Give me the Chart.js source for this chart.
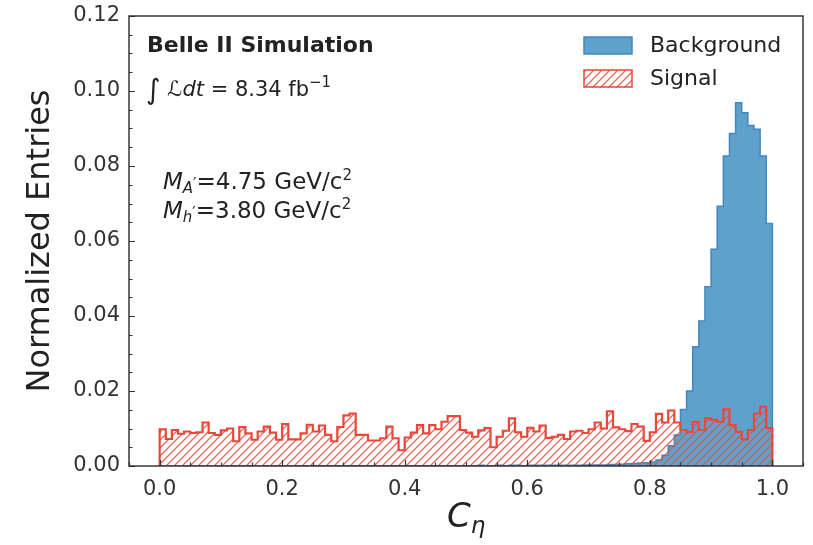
<!DOCTYPE html>
<html>
<head>
<meta charset="utf-8">
<script src="https://cdn.jsdelivr.net/npm/chart.js@4.4.0/dist/chart.umd.min.js"></script>
<style>
  html, body { margin: 0; padding: 0; background: #fff; }
  #wrap { width: 813px; height: 545px; position: relative; }
</style>
</head>
<body>
<div id="wrap"><canvas id="c"></canvas></div>
<script>
// ── 直方图分箱 (100 bins, 0 → 1) ──
const BIN_START = 0;
const BIN_WIDTH = 0.01;

// Signal (红色斜线)
const SIGNAL = [
  0.0098, 0.0072, 0.0096, 0.0086, 0.0092, 0.0088, 0.0090, 0.0116, 0.0088, 0.0083,
  0.0095, 0.0100, 0.0066, 0.0104, 0.0087, 0.0070, 0.0092, 0.0105, 0.0089, 0.0070,
  0.0112, 0.0071, 0.0071, 0.0087, 0.0110, 0.0092, 0.0108, 0.0083, 0.0066, 0.0104,
  0.0135, 0.0140, 0.0083, 0.0083, 0.0068, 0.0068, 0.0074, 0.0105, 0.0074, 0.0042,
  0.0076, 0.0089, 0.0109, 0.0087, 0.0109, 0.0098, 0.0118, 0.0133, 0.0133, 0.0096,
  0.0089, 0.0078, 0.0095, 0.0101, 0.0050, 0.0078, 0.0094, 0.0127, 0.0090, 0.0078,
  0.0102, 0.0092, 0.0108, 0.0075, 0.0078, 0.0083, 0.0072, 0.0092, 0.0094, 0.0088,
  0.0098, 0.0116, 0.0100, 0.0146, 0.0103, 0.0098, 0.0093, 0.0112, 0.0105, 0.0067,
  0.0090, 0.0139, 0.0116, 0.0148, 0.0116, 0.0096, 0.0091, 0.0118, 0.0096, 0.0127,
  0.0123, 0.0118, 0.0151, 0.0109, 0.0091, 0.0071, 0.0096, 0.0140, 0.0158, 0.0101
];

// Background (蓝色填充)
const BACKGROUND = [
  0.0000, 0.0000, 0.0000, 0.0000, 0.0000, 0.0000, 0.0000, 0.0000, 0.0000, 0.0000,
  0.0000, 0.0001, 0.0000, 0.0000, 0.0001, 0.0000, 0.0000, 0.0001, 0.0000, 0.0001,
  0.0001, 0.0000, 0.0001, 0.0001, 0.0000, 0.0001, 0.0001, 0.0001, 0.0001, 0.0001,
  0.0001, 0.0001, 0.0001, 0.0001, 0.0001, 0.0001, 0.0001, 0.0001, 0.0001, 0.0001,
  0.0001, 0.0001, 0.0001, 0.0001, 0.0001, 0.0001, 0.0001, 0.0001, 0.0001, 0.0001,
  0.0001, 0.0001, 0.0002, 0.0001, 0.0001, 0.0002, 0.0001, 0.0002, 0.0002, 0.0001,
  0.0002, 0.0002, 0.0002, 0.0002, 0.0002, 0.0002, 0.0002, 0.0002, 0.0002, 0.0003,
  0.0003, 0.0003, 0.0003, 0.0004, 0.0004, 0.0005, 0.0006, 0.0007, 0.0008, 0.0009,
  0.0011, 0.0016, 0.0029, 0.0054, 0.0083, 0.0151, 0.0200, 0.0318, 0.0387, 0.0478,
  0.0578, 0.0693, 0.0827, 0.0887, 0.0969, 0.0942, 0.0908, 0.0898, 0.0827, 0.0647
];

const X_TICKS = [0.0, 0.2, 0.4, 0.6, 0.8, 1.0];
const Y_TICKS = [0.00, 0.02, 0.04, 0.06, 0.08, 0.10, 0.12];
const X_MINOR_STEP = 0.05;
const Y_MINOR_STEP = 0.005;

const BLUE_FILL = '#60a1cc';
const BLUE_EDGE = '#3f88c0';
const RED_EDGE = '#e8473a';
const RED_HATCH = 'rgba(232,78,64,0.85)';
const TEXT = '#222';
const FONT = '"DejaVu Sans", Verdana, sans-serif';

// ── 斜线填充 ──
function makeHatch(color) {
  const s = 8;
  const tile = document.createElement('canvas');
  tile.width = s; tile.height = s;
  const g = tile.getContext('2d');
  g.strokeStyle = color;
  g.lineWidth = 1.3;
  g.beginPath();
  g.moveTo(0, s); g.lineTo(s, 0);
  g.moveTo(-1, 1); g.lineTo(1, -1);
  g.moveTo(s - 1, s + 1); g.lineTo(s + 1, s - 1);
  g.stroke();
  return document.getElementById('c').getContext('2d').createPattern(tile, 'repeat');
}
const hatch = makeHatch(RED_HATCH);

// 直方图 → 阶梯线的点
function histPoints(vals) {
  const pts = [{ x: BIN_START, y: 0 }];
  vals.forEach((v, i) => pts.push({ x: BIN_START + i * BIN_WIDTH, y: v }));
  pts.push({ x: BIN_START + vals.length * BIN_WIDTH, y: 0 });
  return pts;
}

// 依次画多段文字（上下标）
function drawRuns(ctx, x, y, runs) {
  runs.forEach(r => {
    ctx.font = r.font;
    ctx.fillText(r.t, x + (r.dx || 0), y + (r.dy || 0));
    x += ctx.measureText(r.t).width + (r.dx || 0);
  });
}

const decor = {
  id: 'decor',
  afterDraw(chart) {
    const { ctx, chartArea: a, scales: { x, y } } = chart;
    ctx.save();

    // 刻度（向内）
    ctx.strokeStyle = '#333';
    ctx.lineWidth = 1.2;
    ctx.beginPath();
    for (let v = -0.05; v <= 1.0501; v += X_MINOR_STEP) {
      const px = Math.round(x.getPixelForValue(v)) + 0.5;
      const major = X_TICKS.some(t => Math.abs(t - v) < 1e-6);
      ctx.moveTo(px, a.bottom);
      ctx.lineTo(px, a.bottom - (major ? 6 : 3.5));
    }
    for (let v = 0; v <= 0.1201; v += Y_MINOR_STEP) {
      const py = Math.round(y.getPixelForValue(v)) + 0.5;
      const major = Y_TICKS.some(t => Math.abs(t - v) < 1e-6);
      ctx.moveTo(a.left, py);
      ctx.lineTo(a.left + (major ? 6 : 3.5), py);
    }
    ctx.stroke();

    // 边框
    ctx.lineWidth = 1.4;
    ctx.strokeStyle = '#2a2a2a';
    ctx.strokeRect(a.left, a.top, a.right - a.left, a.bottom - a.top);

    ctx.fillStyle = TEXT;
    ctx.textBaseline = 'alphabetic';
    ctx.textAlign = 'left';

    // Belle II 标签
    ctx.font = 'bold 22px ' + FONT;
    ctx.fillText('Belle II Simulation', 147, 52);

    drawRuns(ctx, 146, 96, [
      { t: '\u222B', font: '28px ' + FONT, dy: 3 },
      { t: ' \u2112', font: 'italic 21px ' + FONT },
      { t: 'dt', font: 'italic 21px ' + FONT },
      { t: ' = 8.34 fb', font: '21px ' + FONT },
      { t: '\u22121', font: '15px ' + FONT, dy: -9 }
    ]);

    drawRuns(ctx, 163, 189, [
      { t: 'M', font: 'italic 23px ' + FONT },
      { t: 'A', font: 'italic 15px ' + FONT, dy: 4 },
      { t: '\u2032', font: '15px ' + FONT, dy: 0 },
      { t: '=4.75 GeV/c', font: '23px ' + FONT },
      { t: '2', font: '15px ' + FONT, dy: -9 }
    ]);
    drawRuns(ctx, 163, 218, [
      { t: 'M', font: 'italic 23px ' + FONT },
      { t: 'h', font: 'italic 15px ' + FONT, dy: 4 },
      { t: '\u2032', font: '15px ' + FONT, dy: 0 },
      { t: '=3.80 GeV/c', font: '23px ' + FONT },
      { t: '2', font: '15px ' + FONT, dy: -9 }
    ]);

    // 图例
    ctx.lineWidth = 1.5;
    ctx.fillStyle = BLUE_FILL;
    ctx.fillRect(584, 37, 48, 17);
    ctx.strokeStyle = BLUE_EDGE;
    ctx.strokeRect(584, 37, 48, 17);
    ctx.fillStyle = hatch;
    ctx.fillRect(584, 70, 48, 17);
    ctx.strokeStyle = RED_EDGE;
    ctx.strokeRect(584, 70, 48, 17);
    ctx.fillStyle = TEXT;
    ctx.font = '22px ' + FONT;
    ctx.textBaseline = 'middle';
    ctx.fillText('Background', 650, 46);
    ctx.fillText('Signal', 650, 79);

    // 坐标轴标题
    ctx.save();
    ctx.translate(41, (a.top + a.bottom) / 2);
    ctx.rotate(-Math.PI / 2);
    ctx.textAlign = 'center';
    ctx.font = '32px ' + FONT;
    ctx.fillText('Normalized Entries', 0, 0);
    ctx.restore();

    ctx.textBaseline = 'alphabetic';
    drawRuns(ctx, 447, 527, [
      { t: 'C', font: 'italic 34px ' + FONT },
      { t: '\u03B7', font: 'italic 23px ' + FONT, dy: 6 }
    ]);

    ctx.restore();
  }
};

const tickFont = { family: FONT, size: 21 };

new Chart(document.getElementById('c'), {
  type: 'line',
  data: {
    datasets: [
      {
        label: 'Signal',
        data: histPoints(SIGNAL),
        stepped: 'before',
        borderColor: RED_EDGE,
        borderWidth: 2.2,
        backgroundColor: hatch,
        fill: 'origin',
        pointRadius: 0,
        order: 1
      },
      {
        label: 'Background',
        data: histPoints(BACKGROUND),
        stepped: 'before',
        borderColor: BLUE_EDGE,
        borderWidth: 1.5,
        backgroundColor: BLUE_FILL,
        fill: 'origin',
        pointRadius: 0,
        order: 2
      }
    ]
  },
  options: {
    responsive: true,
    maintainAspectRatio: false,
    animation: false,
    layout: { padding: { top: 16, right: 10, left: 0, bottom: 0 } },
    plugins: { legend: { display: false }, tooltip: { enabled: false } },
    scales: {
      x: {
        type: 'linear',
        min: -0.05,
        max: 1.05,
        afterBuildTicks: s => { s.ticks = X_TICKS.map(v => ({ value: v })); },
        afterFit: s => { s.height = 79; s.paddingLeft = 0; s.paddingRight = 0; },
        grid: { display: false, drawTicks: false },
        border: { display: false },
        ticks: { font: tickFont, color: '#333', padding: 11, maxRotation: 0, autoSkip: false,
                 callback: v => v.toFixed(1) }
      },
      y: {
        min: 0,
        max: 0.12,
        afterBuildTicks: s => { s.ticks = Y_TICKS.map(v => ({ value: v })); },
        afterFit: s => { s.width = 129; s.paddingTop = 0; s.paddingBottom = 0; },
        grid: { display: false, drawTicks: false },
        border: { display: false },
        ticks: { font: tickFont, color: '#333', padding: 9, autoSkip: false,
                 callback: v => v.toFixed(2) }
      }
    }
  },
  plugins: [decor]
});
</script>
</body>
</html>
